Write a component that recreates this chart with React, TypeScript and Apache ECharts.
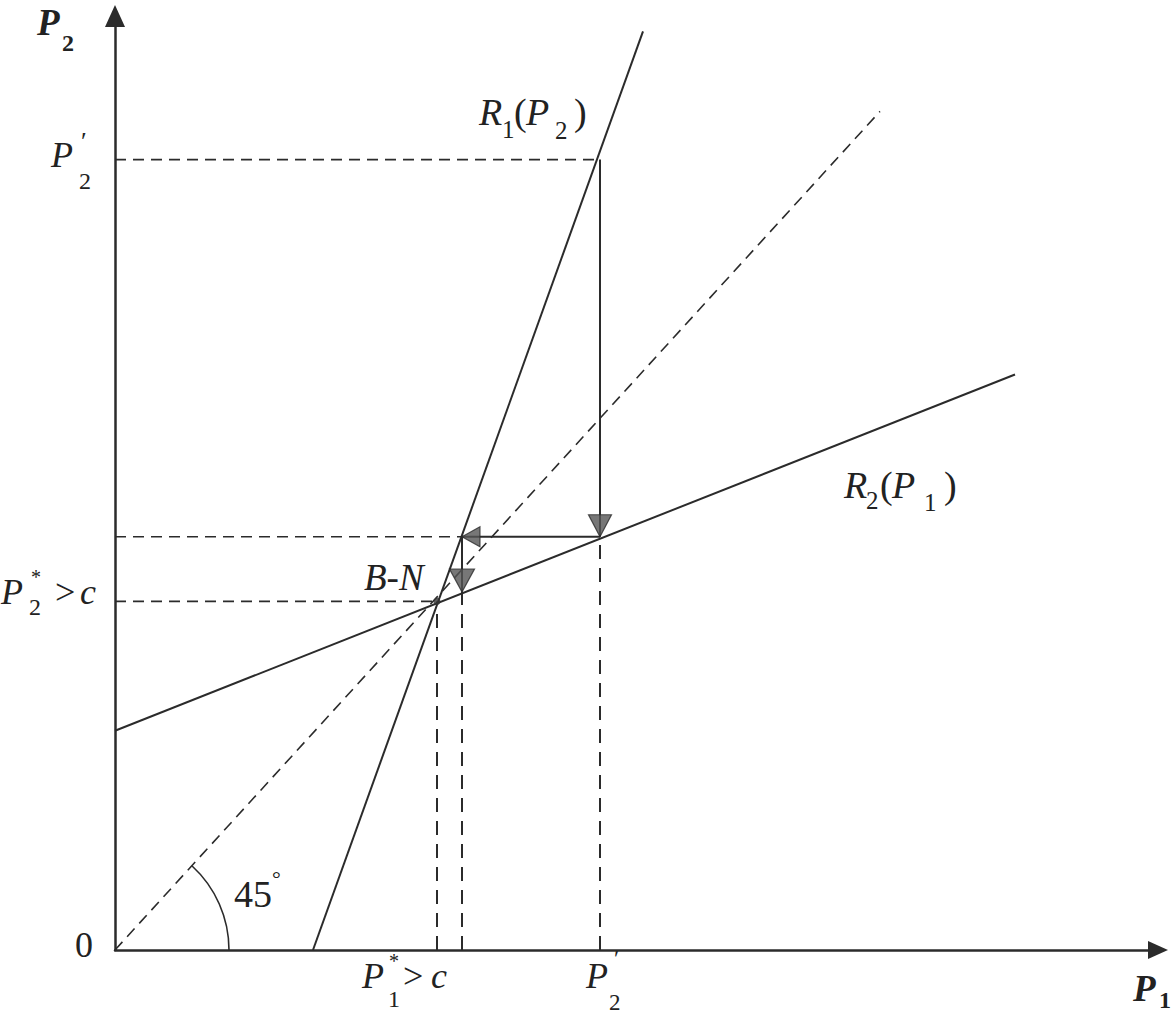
import React, { useEffect, useRef } from 'react';
import * as echarts from 'echarts';

// Reaction functions (endpoints)
const r1Line: number[][] = [[1.98, 0], [5.28, 8.38]];
const r2Line: number[][] = [[0, 2.0], [9.0, 5.25]];
const diagLine: number[][] = [[0, 0], [7.65, 7.65]];
const nashPoint: number[] = [3.22, 3.18];
const p1Prime = 4.85;
const p2Prime = 7.21;
const stepOnR2a: number[] = [4.85, 3.77];
const stepOnR1: number[] = [3.47, 3.77];
const stepOnR2b: number[] = [3.47, 3.27];
const xMax = 10.43;
const yMax = 8.52;

const FONT = 'Liberation Serif';
const INK = '#2b2b2b';
const DASH = [11, 7];
const VDASH = [14, 9];

function piece(x: number, y: number, text: string, fs: number, st: string) {
  return {
    type: 'text',
    x,
    y,
    silent: true,
    style: {
      text,
      fill: '#222',
      fontFamily: FONT,
      fontSize: fs,
      fontStyle: st.includes('i') ? 'italic' : 'normal',
      fontWeight: st.includes('b') ? 'bold' : 'normal',
      align: 'left',
      verticalAlign: 'middle',
    },
  };
}

function solid(name: string, data: number[][]) {
  return {
    name,
    type: 'line',
    data,
    symbol: 'none',
    silent: true,
    lineStyle: { color: INK, width: 2, type: 'solid' },
  };
}

function dashed(name: string, data: number[][], width = 1.6, dash = DASH) {
  return {
    name,
    type: 'line',
    data,
    symbol: 'none',
    silent: true,
    lineStyle: { color: INK, width, type: dash },
  };
}

function arrow(point: number[], rotate: number, size: number[], offset: number[]) {
  return {
    type: 'scatter',
    data: [point],
    symbol: 'triangle',
    symbolRotate: rotate,
    symbolSize: size,
    symbolOffset: offset,
    silent: true,
    z: 5,
    itemStyle: { color: '#555', borderColor: '#2b2b2b', borderWidth: 1.2 },
  };
}

export default function App() {
  const ref = useRef<HTMLDivElement>(null);
  useEffect(() => {
    if (!ref.current) return;
    const chart = echarts.init(ref.current, null, { renderer: 'svg' });
    chart.setOption({
      animation: false,
      backgroundColor: '#ffffff',
      grid: { left: 115, right: 14, top: 16, bottom: 64, containLabel: false },
      xAxis: {
        type: 'value',
        min: 0,
        max: xMax,
        axisLine: {
          show: true,
          symbol: ['none', 'triangle'],
          symbolSize: [18, 20],
          lineStyle: { color: INK, width: 2.5 },
        },
        axisTick: { show: false },
        axisLabel: { show: false },
        splitLine: { show: false },
      },
      yAxis: {
        type: 'value',
        min: 0,
        max: yMax,
        axisLine: {
          show: true,
          symbol: ['none', 'triangle'],
          symbolSize: [20, 22],
          lineStyle: { color: INK, width: 2.5 },
        },
        axisTick: { show: false },
        axisLabel: { show: false },
        splitLine: { show: false },
      },
      series: [
        solid('R1', r1Line),
        solid('R2', r2Line),
        solid('step1', [[p1Prime, p2Prime], stepOnR2a]),
        solid('step2', [stepOnR2a, stepOnR1]),
        solid('step3', [stepOnR1, stepOnR2b]),
        dashed('diag', diagLine, 1.6),
        dashed('p2prime', [[0, p2Prime], [p1Prime, p2Prime]]),
        dashed('h377', [[0, stepOnR1[1]], stepOnR1]),
        dashed('hNash', [[0, nashPoint[1]], nashPoint]),
        dashed('vNash', [[nashPoint[0], 0], nashPoint], 2, VDASH),
        dashed('v347', [[stepOnR2b[0], 0], stepOnR2b], 2, VDASH),
        dashed('vP1prime', [[p1Prime, 0], stepOnR2a], 2, VDASH),
        {
          type: 'scatter',
          data: [nashPoint],
          symbol: 'circle',
          symbolSize: 7,
          silent: true,
          z: 6,
          itemStyle: { color: '#333' },
        },
        arrow(stepOnR2a, 180, [23, 22], [0, -11]),
        arrow(stepOnR1, 90, [20, 18], [9, 0]),
        arrow(stepOnR2b, 180, [25, 23], [0, -11]),
      ],
    });

    const o = chart.convertToPixel({ gridIndex: 0 }, [0, 0]) as number[];
    const d = chart.convertToPixel({ gridIndex: 0 }, diagLine[1]) as number[];
    const ang = Math.atan2(d[1] - o[1], d[0] - o[0]);

    chart.setOption({
      graphic: [
        {
          type: 'arc',
          silent: true,
          shape: { cx: o[0], cy: o[1], r: 114, startAngle: ang, endAngle: 0, clockwise: true },
          style: { stroke: INK, lineWidth: 1.6, fill: 'none' },
        },
        // axis titles
        piece(37, 22, 'P', 37, 'bi'),
        piece(62, 43, '2', 24, 'b'),
        piece(1133, 988, 'P', 37, 'bi'),
        piece(1159, 1000, '1', 24, 'b'),
        piece(75, 945, '0', 36, ''),
        // P'2 on y axis
        piece(51, 155, 'P', 36, 'i'),
        piece(81, 141, '′', 26, ''),
        piece(79, 181, '2', 24, ''),
        // P*2 > c
        piece(1, 592, 'P', 36, 'i'),
        piece(31, 577, '*', 20, ''),
        piece(29, 607, '2', 24, ''),
        piece(55, 592, '>', 36, ''),
        piece(80, 592, 'c', 36, 'i'),
        // B-N
        piece(364, 577, 'B-N', 37, 'i'),
        // R1(P2)
        piece(479, 112, 'R', 38, 'i'),
        piece(502, 129, '1', 25, ''),
        piece(514, 112, '(', 38, ''),
        piece(526, 112, 'P', 38, 'i'),
        piece(555, 130, '2', 25, ''),
        piece(574, 112, ')', 38, ''),
        // R2(P1)
        piece(844, 485, 'R', 38, 'i'),
        piece(866, 500, '2', 25, ''),
        piece(880, 485, '(', 38, ''),
        piece(892, 485, 'P', 38, 'i'),
        piece(924, 502, '1', 25, ''),
        piece(944, 485, ')', 38, ''),
        // P*1 > c
        piece(362, 976, 'P', 36, 'i'),
        piece(389, 961, '*', 20, ''),
        piece(388, 999, '1', 24, ''),
        piece(403, 976, '>', 36, ''),
        piece(431, 976, 'c', 36, 'i'),
        // P'2 on x axis
        piece(586, 976, 'P', 36, 'i'),
        piece(614, 958, '′', 24, ''),
        piece(609, 1002, '2', 23, ''),
        // 45°
        piece(234, 894, '45', 38, ''),
        piece(272, 878, '°', 22, ''),
      ],
    });

    return () => chart.dispose();
  }, []);

  return (
    <div
      ref={ref}
      style={{ position: 'absolute', left: 0, top: 0, width: 1172, height: 1014, background: '#fff' }}
    />
  );
}
